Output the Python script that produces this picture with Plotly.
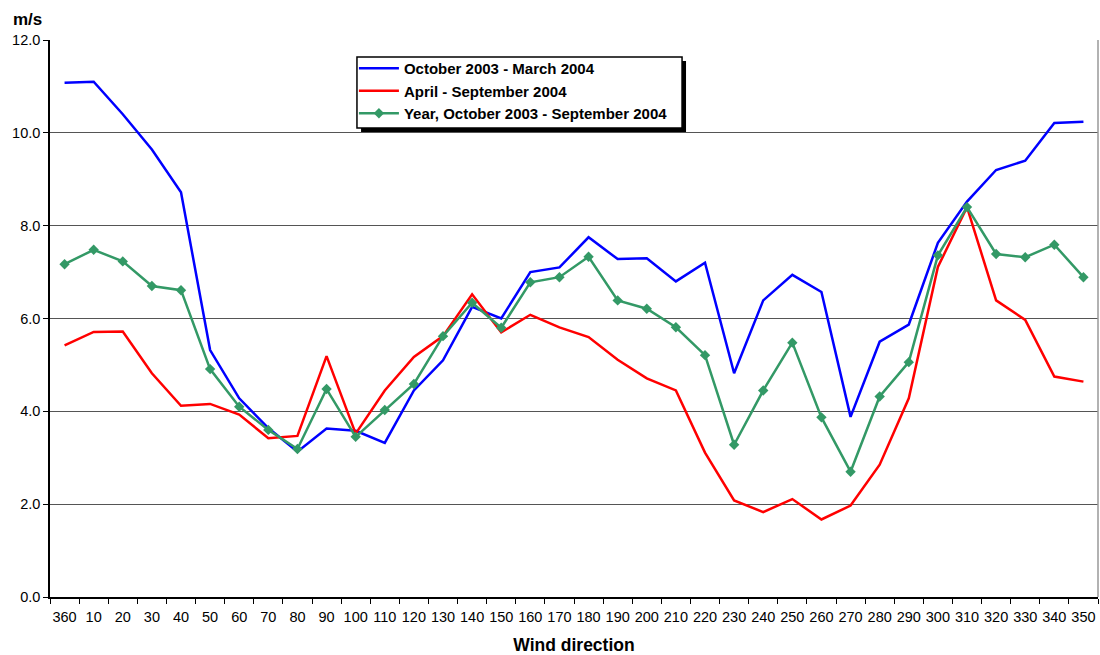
import plotly.graph_objects as go

# wind direction sectors
directions = ["360", "10", "20", "30", "40", "50", "60", "70", "80", "90",
              "100", "110", "120", "130", "140", "150", "160", "170", "180",
              "190", "200", "210", "220", "230", "240", "250", "260", "270",
              "280", "290", "300", "310", "320", "330", "340", "350"]

winter = [11.08, 11.1, 10.4, 9.64, 8.72, 5.32, 4.28, 3.64, 3.13, 3.63,
          3.58, 3.32, 4.45, 5.1, 6.25, 6.0, 7.0, 7.1, 7.75,
          7.28, 7.3, 6.8, 7.2, 4.82, 6.39, 6.94, 6.57, 3.88,
          5.5, 5.87, 7.63, 8.52, 9.2, 9.4, 10.21, 10.24]

summer = [5.42, 5.71, 5.72, 4.82, 4.12, 4.16, 3.93, 3.42, 3.47, 5.19,
          3.52, 4.45, 5.17, 5.62, 6.52, 5.7, 6.08, 5.81, 5.6,
          5.11, 4.71, 4.45, 3.11, 2.08, 1.83, 2.11, 1.67, 1.97,
          2.85, 4.28, 7.11, 8.4, 6.39, 5.97, 4.75, 4.64]

year = [7.17, 7.48, 7.23, 6.7, 6.61, 4.91, 4.1, 3.6, 3.19, 4.48,
        3.45, 4.03, 4.59, 5.62, 6.34, 5.8, 6.78, 6.89, 7.33,
        6.39, 6.21, 5.81, 5.21, 3.28, 4.45, 5.48, 3.87, 2.7,
        4.32, 5.06, 7.36, 8.4, 7.39, 7.32, 7.59, 6.89]

names = ["October 2003 - March 2004", "April - September 2004",
         "Year, October 2003 - September 2004"]

FONT = "Liberation Sans, Arial, sans-serif"

fig = go.Figure()
fig.add_trace(go.Scatter(x=directions, y=winter, name=names[0], mode="lines",
                         line=dict(color="#0000FF", width=2.5)))
fig.add_trace(go.Scatter(x=directions, y=summer, name=names[1], mode="lines",
                         line=dict(color="#FF0000", width=2.5)))
fig.add_trace(go.Scatter(x=directions, y=year, name=names[2], mode="lines+markers",
                         line=dict(color="#339966", width=2.5),
                         marker=dict(symbol="diamond", size=8, color="#339966")))

fig.update_layout(
    width=1100, height=655,
    plot_bgcolor="white", paper_bgcolor="white",
    font=dict(family=FONT, size=14.5, color="black"),
    margin=dict(l=50, r=2, t=40, b=58, autoexpand=False),
    showlegend=True,
    legend=dict(
        x=0.29, y=0.9785, xanchor="left", yanchor="top",
        bgcolor="rgba(0,0,0,0)", borderwidth=0,
        font=dict(family=FONT, size=15, color="black", weight="bold"),
        tracegroupgap=1, itemwidth=40,
    ),
    xaxis=dict(
        type="category", showgrid=False, showline=True, linecolor="black",
        linewidth=1.5, ticks="outside", ticklen=5, tickcolor="black",
        tickson="boundaries", tickangle=0, tickfont=dict(size=14.5),
        ticklabelstandoff=6,
        automargin=False, range=[-0.5, 35.5],
        title=dict(text="<b>Wind direction</b>", font=dict(size=17.5), standoff=19),
    ),
    yaxis=dict(
        range=[0, 12], dtick=2, tickformat=".1f", showgrid=True,
        gridcolor="#555555", gridwidth=1, showline=True, linecolor="black",
        linewidth=1.5, ticks="outside", ticklen=5, tickcolor="black",
        tickfont=dict(size=14.5), zeroline=False, automargin=False,
    ),
    annotations=[dict(text="<b>m/s</b>", xref="paper", yref="paper",
                      x=-0.0372, y=1.036, xanchor="left", yanchor="middle",
                      showarrow=False, font=dict(size=17))],
    shapes=[
        # legend drop shadow
        dict(type="rect", xref="paper", yref="paper",
             x0=0.2968, x1=0.6069, y0=0.8348, y1=0.9623,
             fillcolor="black", line=dict(width=0), layer="above"),
        # legend box
        dict(type="rect", xref="paper", yref="paper",
             x0=0.2929, x1=0.6031, y0=0.842, y1=0.9695,
             fillcolor="white", line=dict(color="black", width=1.5), layer="above"),
        # right border of the plot area
        dict(type="line", xref="paper", yref="paper", x0=1, x1=1, y0=0, y1=1,
             line=dict(color="#999999", width=1.5)),
    ],
)

fig.write_html("out.html", config={"displayModeBar": False},
               post_script="document.body.style.margin='0';")
